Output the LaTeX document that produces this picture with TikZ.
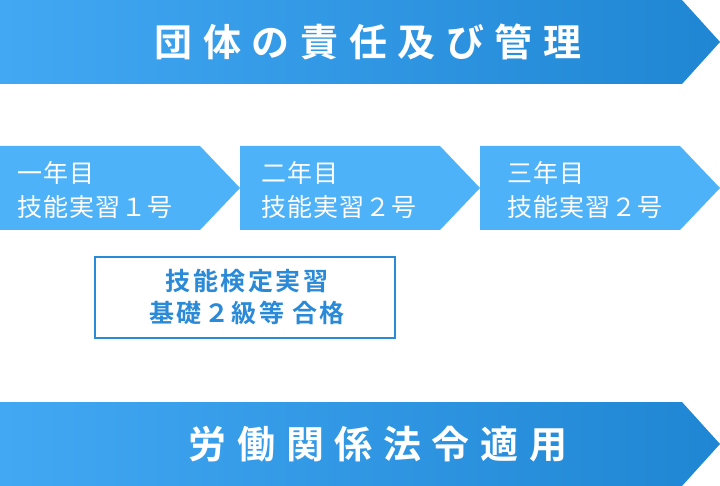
\documentclass[tikz,border=0pt]{standalone}
\usepackage{fontspec}
\newfontfamily\jp{Noto Sans CJK JP}[LetterSpace=4]
\newfontfamily\jpb{Noto Sans CJK JP Bold}
\newfontfamily\jpbwide{Noto Sans CJK JP Bold}[LetterSpace=28]
\newfontfamily\jpbbox{Noto Sans CJK JP Bold}[LetterSpace=10]
\usetikzlibrary{positioning}
\definecolor{bandleft}{HTML}{42A8F4}
\definecolor{bandright}{HTML}{1F86D3}
\definecolor{stepblue}{HTML}{4DB2F8}
\definecolor{boxblue}{HTML}{2A8AD8}
\tikzset{
  band/.style={left color=bandleft, right color=bandright, draw=none},
  stepshape/.style={fill=stepblue, draw=none},
  bandtext/.style={text=white, font=\jpbwide\fontsize{38}{42}\selectfont},
  steptext/.style={text=white, font=\jp\fontsize{25}{34}\selectfont, align=left, anchor=west},
}
\begin{document}
\begin{tikzpicture}[x=1pt,y=-1pt]
  \useasboundingbox (0,0) rectangle (720,486);

  % top band
  \shade[band] (0,0) -- (682,0) -- (720,42) -- (682,84) -- (0,84) -- cycle;
  \node[bandtext] (duty) at (368,42) {団体の責任及び管理};

  % three years
  \fill[stepshape] (0,146) -- (200,146) -- (240,188) -- (200,230) -- (0,230) -- cycle;
  \fill[stepshape] (240,146) -- (440,146) -- (480,188) -- (440,230) -- (240,230) -- cycle;
  \fill[stepshape] (480,146) -- (680,146) -- (720,188) -- (680,230) -- (480,230) -- cycle;
  \node[steptext] (year1) at (14,190) {一年目\\技能実習１号};
  \node[steptext] (year2) at (258,190) {二年目\\技能実習２号};
  \node[steptext] (year3) at (504,190) {三年目\\技能実習２号};

  % exam box
  \draw[boxblue, line width=1.5pt] (95,257) rectangle (395,338);
  \node[text=boxblue, font=\jpbbox\fontsize{25}{32}\selectfont, align=center] (exam) at (247,297) {技能検定実習\\基礎２級等 合格};

  % bottom band
  \shade[band] (0,402) -- (682,402) -- (720,444) -- (682,486) -- (0,486) -- cycle;
  \node[bandtext] (law) at (378,444) {労働関係法令適用};
\end{tikzpicture}
\end{document}
